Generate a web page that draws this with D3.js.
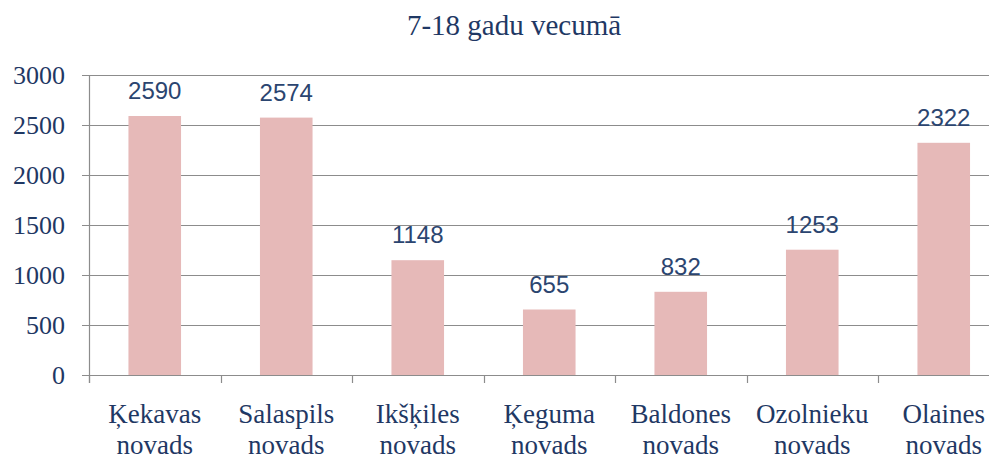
<!DOCTYPE html>
<html>
<head>
<meta charset="utf-8">
<script src="https://cdn.jsdelivr.net/npm/d3@7"></script>
<style>
  body { margin: 0; background: #fff; }
  svg { display: block; }
  .serif { font-family: "Liberation Serif", "Times New Roman", Times, "DejaVu Serif", serif; }
  .sans { font-family: "Liberation Sans", Arial, sans-serif; }
</style>
</head>
<body>
<svg id="chart" width="989" height="457"></svg>
<script>
// chart data
const regions = ['Ķekavas', 'Salaspils', 'Ikšķiles', 'Ķeguma', 'Baldones', 'Ozolnieku', 'Olaines'];
const regionSuffix = 'novads';
const values = [2590, 2574, 1148, 655, 832, 1253, 2322];
const yTicks = [0, 500, 1000, 1500, 2000, 2500, 3000];
const title = '7-18 gadu vecumā';

const svg = d3.select('#chart');
const width = 989;

// plot area runs off the right edge, as in the original
const margin = { left: 89, top: 75, bottom: 375 };
const bandWidth = 131.5;
const plotRight = margin.left + bandWidth * regions.length;

const x = d3.scaleBand()
  .domain(regions)
  .range([margin.left, plotRight])
  .paddingInner(0.6)
  .paddingOuter(0.3);

const y = d3.scaleLinear()
  .domain([0, 3000])
  .range([margin.bottom, margin.top]);

const textColor = '#1F3864';
const gridColor = '#8c8c8c';

svg.append('text')
  .attr('class', 'serif')
  .attr('x', 514)
  .attr('y', 35)
  .attr('text-anchor', 'middle')
  .style('font-size', '29px')
  .style('fill', textColor)
  .text(title);

// gridlines + y ticks
svg.append('g')
  .selectAll('line')
  .data(yTicks)
  .join('line')
    .attr('x1', margin.left - 7)
    .attr('x2', width)
    .attr('y1', d => Math.round(y(d)) + 0.5)
    .attr('y2', d => Math.round(y(d)) + 0.5)
    .style('stroke', gridColor)
    .style('stroke-width', 1.2);

svg.append('g')
  .selectAll('text')
  .data(yTicks)
  .join('text')
    .attr('class', 'serif')
    .attr('x', 65)
    .attr('y', d => y(d))
    .attr('dy', '0.34em')
    .attr('text-anchor', 'end')
    .style('font-size', '26px')
    .style('fill', textColor)
    .text(d => d);

// y axis line
svg.append('line')
  .attr('x1', margin.left + 0.5)
  .attr('x2', margin.left + 0.5)
  .attr('y1', margin.top)
  .attr('y2', margin.bottom + 8)
  .style('stroke', gridColor)
  .style('stroke-width', 1.2);

// category ticks between bands
const tickXs = d3.range(regions.length + 1).map(i => margin.left + i * bandWidth);
svg.append('g')
  .selectAll('line')
  .data(tickXs)
  .join('line')
    .attr('x1', d => Math.round(d) + 0.5)
    .attr('x2', d => Math.round(d) + 0.5)
    .attr('y1', margin.bottom)
    .attr('y2', margin.bottom + 8)
    .style('stroke', gridColor)
    .style('stroke-width', 1.2);

// bars
svg.append('g')
  .selectAll('rect')
  .data(values)
  .join('rect')
    .attr('x', (d, i) => x(regions[i]))
    .attr('y', d => y(d))
    .attr('width', x.bandwidth())
    .attr('height', d => y(0) - y(d))
    .style('fill', '#E6B9B8');

// value labels
svg.append('g')
  .selectAll('text')
  .data(values)
  .join('text')
    .attr('class', 'sans')
    .attr('x', (d, i) => x(regions[i]) + x.bandwidth() / 2)
    .attr('y', d => y(d) - 17)
    .attr('text-anchor', 'middle')
    .style('font-size', '24px')
    .style('fill', '#2B4570')
    .text(d => d);

// category labels, two lines (second line clipped by the frame, as in the source)
const labels = svg.append('g')
  .selectAll('text')
  .data(regions)
  .join('text')
    .attr('class', 'serif')
    .attr('text-anchor', 'middle')
    .style('font-size', '27px')
    .style('fill', textColor);

labels.append('tspan')
  .attr('x', d => x(d) + x.bandwidth() / 2)
  .attr('y', 423)
  .text(d => d);

labels.append('tspan')
  .attr('x', d => x(d) + x.bandwidth() / 2)
  .attr('y', 454)
  .text(regionSuffix);
</script>
</body>
</html>
